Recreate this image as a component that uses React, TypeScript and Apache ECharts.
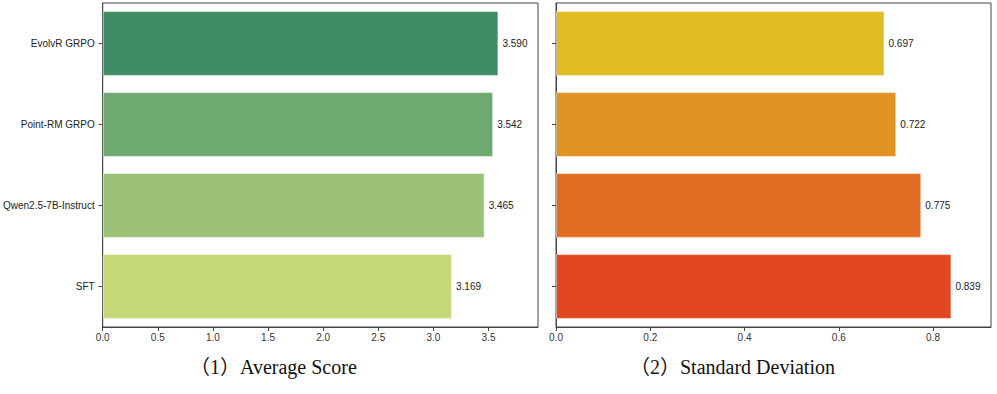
import React, { useEffect, useRef } from "react";
import * as echarts from "echarts";

const categories = ["EvolvR GRPO", "Point-RM GRPO", "Qwen2.5-7B-Instruct", "SFT"];
const avgScores = [3.59, 3.542, 3.465, 3.169];
const stdDevs = [0.697, 0.722, 0.775, 0.839];
const avgColors = ["#3E8B64", "#6EAA70", "#9BC176", "#C4D87A"];
const stdColors = ["#E0BB22", "#E09322", "#E06D23", "#E04722"];
const avgTicks = [0, 0.5, 1, 1.5, 2, 2.5, 3, 3.5];
const stdTicks = [0, 0.2, 0.4, 0.6, 0.8];
const titles = ["（1）Average Score", "（2）Standard Deviation"];

const sans = "'Liberation Sans', Arial, sans-serif";

export default function App() {
  const ref = useRef<HTMLDivElement>(null);
  useEffect(() => {
    if (!ref.current) return;
    const chart = echarts.init(ref.current, null, { renderer: "svg" });
    const grids = [
      { left: 102, top: 3, width: 436, height: 324 },
      { left: 556, top: 3, width: 435, height: 324 },
    ];
    const mkX = (idx: number, max: number, ticks: number[], digits: number) => ({
      type: "value",
      gridIndex: idx,
      min: 0,
      max,
      axisLine: { show: true, lineStyle: { color: "#444", width: 1 } },
      axisTick: { show: true, length: 4, lineStyle: { color: "#444" }, customValues: ticks },
      axisLabel: {
        show: true,
        margin: 5,
        fontSize: 10,
        color: "#333",
        fontFamily: sans,
        customValues: ticks,
        formatter: (v: number) => v.toFixed(digits),
      },
      splitLine: { show: false },
    });
    const mkY = (idx: number, showLabels: boolean) => ({
      type: "category",
      gridIndex: idx,
      data: categories,
      inverse: true,
      axisLine: { show: true, lineStyle: { color: "#444", width: 1 } },
      axisTick: { show: true, length: 4, alignWithLabel: true, lineStyle: { color: "#444" } },
      axisLabel: { show: showLabels, margin: 8, fontSize: 10, color: "#222", fontFamily: sans },
    });
    const mkSeries = (idx: number, vals: number[], colors: string[]) => ({
      type: "bar",
      xAxisIndex: idx,
      yAxisIndex: idx,
      barCategoryGap: "20%",
      data: vals.map((v, i) => ({
        value: v,
        itemStyle: { color: colors[i], borderColor: "rgba(255,255,255,0.5)", borderWidth: 1 },
      })),
      label: {
        show: true,
        position: "right",
        distance: 4,
        fontSize: 10,
        color: "#222",
        fontFamily: sans,
        formatter: (p: any) => Number(p.value).toFixed(3),
      },
    });
    const serif = "'Liberation Serif', 'Times New Roman', 'Noto Sans CJK SC', serif";
    chart.setOption({
      animation: false,
      grid: grids.map((g) => ({
        ...g,
        show: true,
        borderColor: "#444",
        borderWidth: 1,
        backgroundColor: "transparent",
      })),
      xAxis: [mkX(0, 3.59 * 1.1, avgTicks, 1), mkX(1, 0.839 * 1.1, stdTicks, 1)],
      yAxis: [mkY(0, true), mkY(1, false)],
      series: [mkSeries(0, avgScores, avgColors), mkSeries(1, stdDevs, stdColors)],
      graphic: [
        {
          type: "text",
          left: 190,
          top: 357,
          style: { text: titles[0], fontSize: 20, fill: "#111", fontFamily: serif },
        },
        {
          type: "text",
          left: 630,
          top: 357,
          style: { text: titles[1], fontSize: 20, fill: "#111", fontFamily: serif },
        },
      ],
    });
    return () => chart.dispose();
  }, []);
  return (
    <div
      ref={ref}
      style={{ position: "fixed", left: 0, top: 0, width: 997, height: 394, background: "#fff" }}
    />
  );
}
